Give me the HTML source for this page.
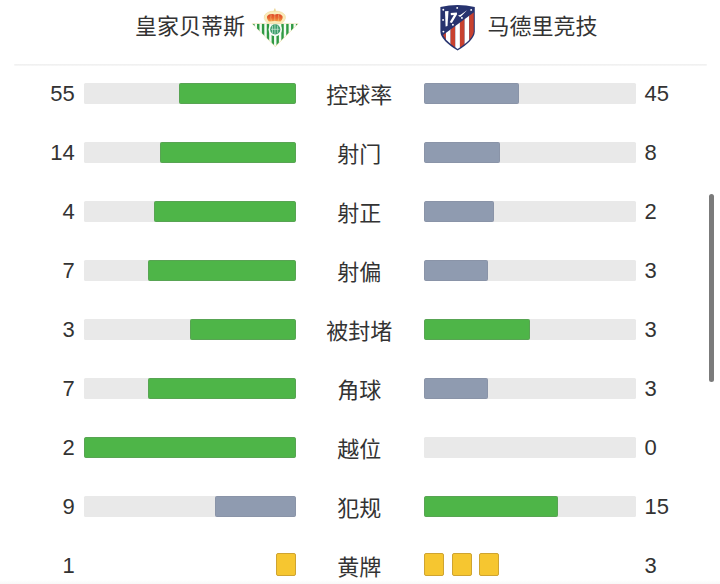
<!DOCTYPE html>
<html lang="zh-CN"><head><meta charset="utf-8"><title>技术统计</title>
<style>
html,body{margin:0;padding:0;background:#fff;}
body{width:720px;height:584px;position:relative;overflow:hidden;
 font-family:"Liberation Sans","Noto Sans CJK SC",sans-serif;color:#333;}
.hd{position:absolute;top:0;height:54px;line-height:54px;font-size:22px;font-weight:400;white-space:nowrap;color:#333;}
.hd.a{left:135px;}
.hd.b{left:487.5px;}
.sep{position:absolute;left:13.8px;width:693.2px;top:63.8px;height:2.6px;background:linear-gradient(#f0f0f0,#f1f1f1 45%,#f9f9f9);border-radius:1px;}
.row{position:absolute;left:0;width:720px;height:21.8px;}
.track{position:absolute;top:0;height:21.8px;width:212px;background:#e9e9e9;border-radius:1.5px;overflow:hidden;}
.tl{left:84px;} .tr{left:424px;}
.track i{position:absolute;top:0;height:100%;display:block;border-radius:1.5px;box-sizing:border-box;}
.tl i{right:0;} .tr i{left:0;}
i.g{background:#4eb548;border:1px solid #58a453;}
i.y{background:#8f9bb0;border:1px solid #8a94a8;}
.num{position:absolute;top:-0.3px;height:21.8px;line-height:23.8px;font-size:22px;color:#333;}
.num.l{right:645.3px;text-align:right;}
.num.r{left:644.5px;}
.lab{position:absolute;left:259.3px;width:200px;text-align:center;top:1.5px;height:21.8px;line-height:23.8px;font-size:22px;font-weight:400;color:#333;}
.card{position:absolute;top:-2px;width:20px;height:23.5px;background:#f6c630;border:1px solid #cfa431;border-radius:2px;box-sizing:border-box;display:block;}
.logo{position:absolute;display:block;}
.bt{position:absolute;left:0;width:720px;top:580px;height:4px;background:linear-gradient(#ffffff,#f8f8f8);}
.sb{position:absolute;left:709px;top:193.5px;width:5.2px;height:188px;border-radius:3px;background:#7b7b7b;}
</style></head><body>
<div class="hd a">皇家贝蒂斯</div>
<div class="hd b">马德里竞技</div>
<svg class="logo" style="left:240px;top:0" width="70" height="56" viewBox="240 0 70 56">
<defs><clipPath id="bt"><path d="M252.4,23.8 L297.9,23.8 L275.25,46.3 Z"/></clipPath>
<linearGradient id="cr" x1="0" y1="0" x2="0" y2="1"><stop offset="0" stop-color="#de4528"/><stop offset="0.55" stop-color="#e9682f"/><stop offset="1" stop-color="#f2a64c"/></linearGradient></defs>
<path d="M251.70000000000002,23.400000000000002 L298.59999999999997,23.400000000000002 L275.25,47.0 Z" fill="#f1dfa6"/>
<g clip-path="url(#bt)"><rect x="250" y="23.8" width="50" height="24" fill="#f4fbf4"/><rect x="252.16" y="23.8" width="2.43" height="22.5" fill="#2f9a43"/><rect x="257.02" y="23.8" width="2.43" height="22.5" fill="#2f9a43"/><rect x="261.88" y="23.8" width="2.43" height="22.5" fill="#2f9a43"/><rect x="266.75" y="23.8" width="2.43" height="22.5" fill="#2f9a43"/><rect x="271.61" y="23.8" width="2.43" height="22.5" fill="#2f9a43"/><rect x="276.46" y="23.8" width="2.43" height="22.5" fill="#2f9a43"/><rect x="281.32" y="23.8" width="2.43" height="22.5" fill="#2f9a43"/><rect x="286.19" y="23.8" width="2.43" height="22.5" fill="#2f9a43"/><rect x="291.05" y="23.8" width="2.43" height="22.5" fill="#2f9a43"/><rect x="295.90" y="23.8" width="2.43" height="22.5" fill="#2f9a43"/></g>
<circle cx="275.25" cy="29.6" r="6.7" fill="#f6fbf5"/>
<circle cx="275.25" cy="29.4" r="5.1" fill="#3c9d6c"/>
<path d="M271.05,29.3 H279.45 M274.95,24.8 V34 M277.65,25.6 V33.2 M272.45,25.8 V33" stroke="#cdebd9" stroke-width="0.7" fill="none"/>
<g transform="translate(-0.4,0)"><path d="M268.2,23.6 Q265.8,21.6 264.6,18.6 Q263.6,14.6 268.0,12.4 Q271.6,10.8 275.2,11.2 Q278.8,10.8 282.4,12.4 Q286.8,14.6 285.8,18.6 Q284.6,21.6 282.2,23.6 Z" fill="#f9ebbb" stroke="#ecd596" stroke-width="0.5"/>
<path d="M269.4,21.6 Q266.6,18.4 267.6,16.0 Q269.0,13.8 272.4,13.9 Q274.2,14.0 275.2,14.8 Q276.2,14.0 278.0,13.9 Q281.4,13.8 282.8,16.0 Q283.8,18.4 281.0,21.6 Q275.2,20.6 269.4,21.6 Z" fill="url(#cr)"/>
<path d="M275.2,14.4 V21 M271.6,14.4 Q270.6,17.6 271.8,21.2 M278.8,14.4 Q279.8,17.6 278.6,21.2" stroke="#f4c47a" stroke-width="0.7" fill="none" opacity="0.8"/>
<circle cx="275.2" cy="10.6" r="1.1" fill="#f0d68f"/>
<path d="M275.2,8.6 V10 M274.4,9.2 H276" stroke="#ead08c" stroke-width="0.6"/></g>
</svg>
<svg class="logo" style="left:430px;top:0" width="56" height="56" viewBox="430 0 56 56">
<defs><clipPath id="at"><path d="M441.5,8.2 Q457.6,4.6 473.8,8.2 L473.8,31.2 Q473.4,39.0 457.6,48.9 Q442.6,39.4 441.9,31.2 Z"/></clipPath><clipPath id="ad"><path d="M476,10.9 V52 H440 V37.3 Z"/></clipPath></defs>
<path d="M440.4,7.0 Q457.6,2.8 474.8,7.0 L474.8,31.5 Q474.6,40.2 457.6,50.6 Q440.6,40.2 440.4,31.5 Z" fill="#27336f"/>
<g clip-path="url(#at)"><g clip-path="url(#ad)"><rect x="441.30" y="4" width="4.66" height="46" fill="#c8412f"/><rect x="445.96" y="4" width="4.66" height="46" fill="#ffffff"/><rect x="450.61" y="4" width="4.66" height="46" fill="#c8412f"/><rect x="455.27" y="4" width="4.66" height="46" fill="#ffffff"/><rect x="459.93" y="4" width="4.66" height="46" fill="#c8412f"/><rect x="464.59" y="4" width="4.66" height="46" fill="#ffffff"/><rect x="469.24" y="4" width="4.66" height="46" fill="#c8412f"/></g></g>
<g>
<path d="M445.0,11.3 L448.5,10.9 L447.5,26.0 L445.6,26.4 Z" fill="#ffffff"/>
<path d="M450.7,12.9 L456.8,12.4 L457.1,14.3 L451.9,23.0 L449.7,22.2 L453.9,14.9 L450.9,15.2 Z" fill="#ffffff"/>
<path d="M458.0,15.0 Q459.4,15.6 460.6,14.8 L467.0,10.3 L461.0,16.4 Q459.2,17.4 458.0,15.0 Z" fill="#ffffff"/>
<circle cx="443.3" cy="9.8" r="0.95" fill="#ffffff"/><circle cx="457.2" cy="7.9" r="0.95" fill="#ffffff"/><circle cx="471.2" cy="9.9" r="0.95" fill="#ffffff"/><circle cx="443.1" cy="19.9" r="0.95" fill="#ffffff"/><circle cx="461.9" cy="17.9" r="0.95" fill="#ffffff"/><circle cx="452.9" cy="24.8" r="0.95" fill="#ffffff"/><circle cx="443.4" cy="31.6" r="0.95" fill="#ffffff"/></g>
</svg>
<div class="sep"></div>
<div class="row" style="top:82.5px"><span class="num l">55</span><div class="track tl"><i class="g" style="width:116.6px"></i></div><span class="lab">控球率</span><div class="track tr"><i class="y" style="width:95.4px"></i></div><span class="num r">45</span></div>
<div class="row" style="top:141.5px"><span class="num l">14</span><div class="track tl"><i class="g" style="width:135.7px"></i></div><span class="lab">射门</span><div class="track tr"><i class="y" style="width:76.3px"></i></div><span class="num r">8</span></div>
<div class="row" style="top:200.5px"><span class="num l">4</span><div class="track tl"><i class="g" style="width:142.0px"></i></div><span class="lab">射正</span><div class="track tr"><i class="y" style="width:70.0px"></i></div><span class="num r">2</span></div>
<div class="row" style="top:259.5px"><span class="num l">7</span><div class="track tl"><i class="g" style="width:148.4px"></i></div><span class="lab">射偏</span><div class="track tr"><i class="y" style="width:63.6px"></i></div><span class="num r">3</span></div>
<div class="row" style="top:318.5px"><span class="num l">3</span><div class="track tl"><i class="g" style="width:106.0px"></i></div><span class="lab">被封堵</span><div class="track tr"><i class="g" style="width:106.0px"></i></div><span class="num r">3</span></div>
<div class="row" style="top:377.5px"><span class="num l">7</span><div class="track tl"><i class="g" style="width:148.4px"></i></div><span class="lab">角球</span><div class="track tr"><i class="y" style="width:63.6px"></i></div><span class="num r">3</span></div>
<div class="row" style="top:436.5px"><span class="num l">2</span><div class="track tl"><i class="g" style="width:212.0px"></i></div><span class="lab">越位</span><div class="track tr"></div><span class="num r">0</span></div>
<div class="row" style="top:495.5px"><span class="num l">9</span><div class="track tl"><i class="y" style="width:80.6px"></i></div><span class="lab">犯规</span><div class="track tr"><i class="g" style="width:133.6px"></i></div><span class="num r">15</span></div>
<div class="row" style="top:554.5px"><span class="num l">1</span><b class="card" style="left:275.8px"></b><span class="lab">黄牌</span><b class="card" style="left:424px"></b><b class="card" style="left:451.7px"></b><b class="card" style="left:479.3px"></b><span class="num r">3</span></div>
<div class="bt"></div>
<div class="sb"></div>
</body></html>
